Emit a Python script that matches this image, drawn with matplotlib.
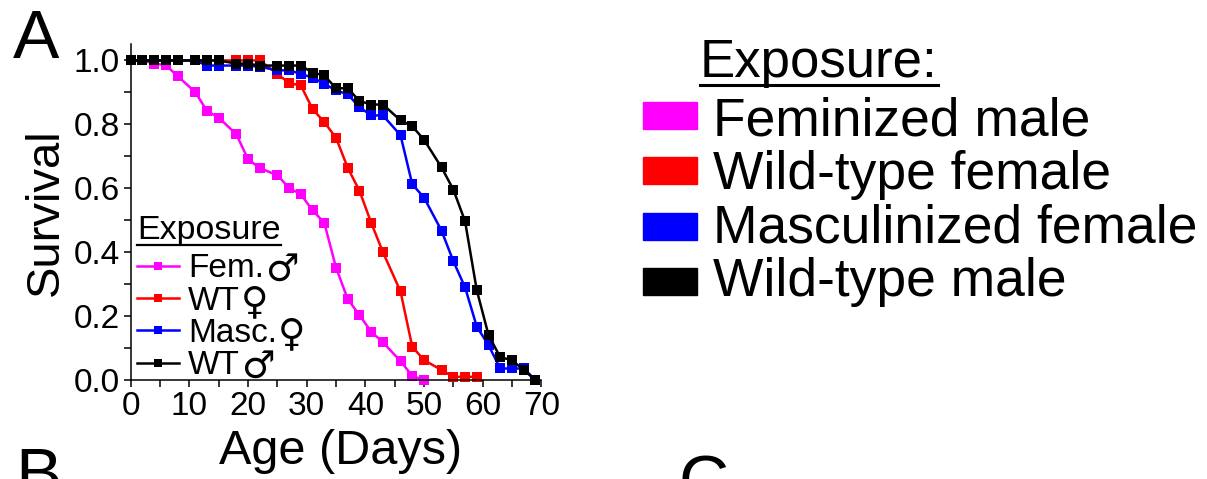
import matplotlib
matplotlib.use("Agg")
import matplotlib.pyplot as plt
from matplotlib.lines import Line2D
from matplotlib.patches import Rectangle
from matplotlib.font_manager import FontProperties
from matplotlib.ticker import MultipleLocator, FormatStrFormatter

plt.rcParams["font.family"] = ["Liberation Sans", "DejaVu Sans"]

# Census days (age in days)
days = [0, 2, 4, 6, 8, 11, 13, 15, 18, 20, 22, 25, 27, 29, 31, 33, 35,
        37, 39, 41, 43, 46, 48, 50, 53, 55, 57, 59, 61, 63, 65, 67, 69]

# Fraction surviving for each exposure group
fem_male = [1.0, 1.0, 0.99, 0.985, 0.951, 0.901, 0.842, 0.821, 0.769, 0.691,
            0.663, 0.641, 0.601, 0.581, 0.531, 0.492, 0.352, 0.253, 0.203,
            0.151, 0.118, 0.059, 0.013, 0.0]
wt_female = [1.0, 1.0, 1.0, 1.0, 1.0, 1.0, 1.0, 1.0, 1.0, 1.0, 1.0,
             0.958, 0.929, 0.922, 0.848, 0.807, 0.758, 0.664, 0.592, 0.492,
             0.400, 0.277, 0.104, 0.0625, 0.031, 0.010, 0.010, 0.010]
masc_female = [1.0, 1.0, 1.0, 1.0, 1.0, 1.0, 0.984, 0.984, 0.984, 0.984,
               0.980, 0.969, 0.969, 0.958, 0.946, 0.927, 0.906, 0.894, 0.854,
               0.828, 0.828, 0.766, 0.6125, 0.571, 0.467, 0.372, 0.290,
               0.167, 0.109, 0.036, 0.036, 0.036, 0.0]
wt_male = [1.0, 1.0, 1.0, 1.0, 1.0, 1.0, 1.0, 1.0, 0.99, 0.99, 0.984,
           0.984, 0.984, 0.984, 0.962, 0.953, 0.913, 0.913, 0.873, 0.862,
           0.862, 0.8125, 0.794, 0.752, 0.665, 0.596, 0.497, 0.281, 0.141,
           0.071, 0.0625, 0.031, 0.0]

series = [fem_male, wt_female, masc_female, wt_male]
short_labels = ["Fem.", "WT", "Masc.", "WT"]
sex_signs = ["\u2642", "\u2640", "\u2640", "\u2642"]
long_labels = ["Feminized male", "Wild-type female",
               "Masculinized female", "Wild-type male"]
colors = ["#FF00FF", "#FF0000", "#0000FF", "#000000"]

W, H = 1207, 479
fig = plt.figure(figsize=(W / 100, H / 100), dpi=100)

def fx(px):
    return px / W

def fy(py):
    return (H - py) / H

ax = fig.add_axes([fx(130.7), fy(380), fx(541.3) - fx(130.7), fy(43.5) - fy(380)])

for vals, lab, col in zip(series, short_labels, colors):
    ax.plot(days[:len(vals)], vals, color=col, lw=1.8, marker="s", ms=7.8,
            mec=col, mew=0, label=lab, clip_on=False)

ax.set_xlim(0, 70)
ax.set_ylim(0, 1.053)
ax.xaxis.set_major_locator(MultipleLocator(10))
ax.xaxis.set_minor_locator(MultipleLocator(5))
ax.yaxis.set_minor_locator(MultipleLocator(0.1))
ax.set_yticks([0, 0.2, 0.4, 0.6, 0.8, 1.0])
ax.yaxis.set_major_formatter(FormatStrFormatter("%.1f"))

for side in ("top", "right"):
    ax.spines[side].set_visible(False)
for side in ("left", "bottom"):
    ax.spines[side].set_linewidth(1.1)

ax.tick_params(which="both", direction="out", length=5, width=1.1)
ax.tick_params(which="major", labelsize=24, pad=3)

ax.set_xlabel("Age (Days)", fontsize=35, labelpad=5)
ax.xaxis.set_label_coords(0.51, -0.145)
ax.xaxis.label.set_va("top")
ax.set_ylabel("Survival", fontsize=34, labelpad=4)

# In-plot key
leg_prop = FontProperties(family=["Liberation Sans"], size=24)
leg = ax.legend(loc="upper left", bbox_to_anchor=(0.015, 0.376),
                prop=leg_prop, frameon=False, handlelength=1.26,
                handletextpad=0.27, labelspacing=0.04, borderpad=0,
                borderaxespad=0, markerscale=0.8)
inner_title = fig.text(fx(137), fy(239.3), "Exposure", fontsize=24.5,
                       ha="left", va="baseline")

# Group key on the right
title = fig.text(fx(700), fy(77.3), "Exposure:", fontsize=38, ha="left",
                 va="baseline")

for i, (lab, col) in enumerate(zip(long_labels, colors)):
    top = 101.7 + 55.4 * i
    fig.add_artist(Rectangle((fx(643), fy(top + 27)), fx(697) - fx(643),
                             27 / H, color=col, transform=fig.transFigure))
    fig.text(fx(713), fy(135 + 53.7 * i), lab, fontsize=38.4, ha="left",
             va="baseline")

# Panel letters
fig.text(fx(13), fy(58), "A", fontsize=50, ha="left", va="baseline")
fig.text(fx(15), fy(496), "B", fontsize=50, ha="left", va="baseline")
fig.text(fx(678), fy(503), "C", fontsize=50, ha="left", va="baseline")

fig.canvas.draw()
renderer = fig.canvas.get_renderer()

def baseline_of(txt):
    bb = txt.get_window_extent(renderer)
    d = renderer.get_text_width_height_descent("lp", txt.get_fontproperties(), False)[2]
    return bb, bb.y0 + d

# Sex signs after each in-plot key label
sign_prop = FontProperties(family=["DejaVu Sans"], weight="bold", size=27)
for txt, sign in zip(leg.get_texts(), sex_signs):
    bb, base = baseline_of(txt)
    fig.text((bb.x1 + 1) / W, (base - 3) / H, sign, fontproperties=sign_prop,
             ha="left", va="baseline")

# Underlines beneath both key titles
for txt, drop, lw in ((title, 7.5, 2.2), (inner_title, 5.5, 1.6)):
    bb, base = baseline_of(txt)
    y_line = (base - drop) / H
    fig.add_artist(Line2D([bb.x0 / W, bb.x1 / W], [y_line, y_line],
                          color="black", lw=lw, transform=fig.transFigure))

fig.savefig("out.png", dpi=100)
